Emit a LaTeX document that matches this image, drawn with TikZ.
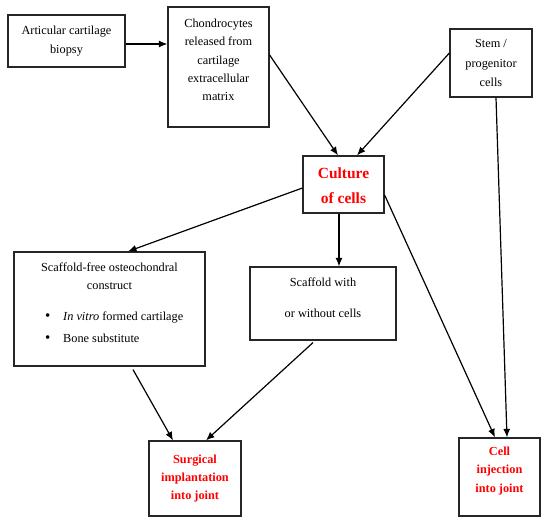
\documentclass[tikz,border=0pt]{standalone}
\usepackage{fontspec}
\setmainfont{Liberation Serif}
\usetikzlibrary{arrows.meta}
\begin{document}
\begin{tikzpicture}[x=1pt,y=1pt,
  box/.style={draw=black!85, line width=1.2pt, rectangle, inner sep=0pt},
  txt/.style={inner sep=0pt, align=center, font=\fontsize{12.3}{18.3}\selectfont},
  redtxt/.style={inner sep=0pt, align=center, text=red, font=\bfseries\fontsize{12.3}{18.3}\selectfont},
  arr/.style={line width=1.2pt, -{Latex[length=8.5pt,width=7pt]}}]
\useasboundingbox (0,0) rectangle (550,525);
% boxes
\node[box, minimum width=117, minimum height=52] (biopsy) at (66.5,484) {};
\node[box, minimum width=101, minimum height=120] (chon) at (218.5,458) {};
\node[box, minimum width=82, minimum height=68] (stem) at (491,462) {};
\node[box, minimum width=81, minimum height=57] (cult) at (343.5,340.5) {};
\node[box, minimum width=191, minimum height=114] (sfree) at (109.5,216) {};
\node[box, minimum width=146, minimum height=73] (swith) at (323,221.5) {};
\node[box, minimum width=92, minimum height=75] (surg) at (195,46.5) {};
\node[box, minimum width=81, minimum height=78] (inj) at (499.5,48) {};
% texts
\node[txt] (biopsyT) at (biopsy.center) {Articular cartilage\\biopsy};
\node[txt] (chonT) at ([yshift=7]chon.center) {Chondrocytes\\released from\\cartilage\\extracellular\\matrix};
\node[txt, font=\fontsize{12.3}{19.5}\selectfont] (stemT) at (stem.center) {Stem /\\progenitor\\cells};
\node[redtxt, font=\bfseries\fontsize{15.5}{25}\selectfont] (cultT) at ([yshift=-1]cult.center) {Culture\\of cells};
\node[txt, font=\fontsize{12.3}{18}\selectfont] (sfreeT) at (109.5,249) {Scaffold-free osteochondral\\construct};
\node[txt, anchor=west] (bullet1) at (45,207) {\makebox[18pt][l]{\fontsize{15}{15}\selectfont•}\textit{In vitro} formed cartilage};
\node[txt, anchor=west] (bullet2) at (45,187) {\makebox[18pt][l]{\fontsize{15}{15}\selectfont•}Bone substitute};
\node[txt, font=\fontsize{12.3}{31}\selectfont] (swithT) at ([yshift=6]swith.center) {Scaffold with\\or without cells};
\node[redtxt] (surgT) at (surg.center) {Surgical\\implantation\\into joint};
\node[redtxt] (injT) at ([yshift=6]inj.center) {Cell\\injection\\into joint};
% connectors
\draw[arr] ([yshift=-3]biopsy.east) -- ([yshift=23]chon.west);
\draw[arr] ([yshift=12]chon.east) -- ([xshift=-5.5]cult.north);
\draw[arr] ([yshift=10]stem.west) -- ([xshift=13.5]cult.north);
\draw[arr] ([xshift=5]stem.south) -- ([xshift=7.5]inj.north);
\draw[arr] ([yshift=-10.5]cult.east) -- ([xshift=-4.5]inj.north);
\draw[arr] ([yshift=-3.5]cult.west) -- ([xshift=18.5]sfree.north);
\draw[arr] ([xshift=-4.5]cult.south) -- ([xshift=16]swith.north);
\draw[arr] ([xshift=23.5,yshift=-3]sfree.south) -- ([xshift=-22]surg.north);
\draw[arr] ([xshift=-10,yshift=-2]swith.south) -- ([xshift=11]surg.north);
\end{tikzpicture}
\end{document}
